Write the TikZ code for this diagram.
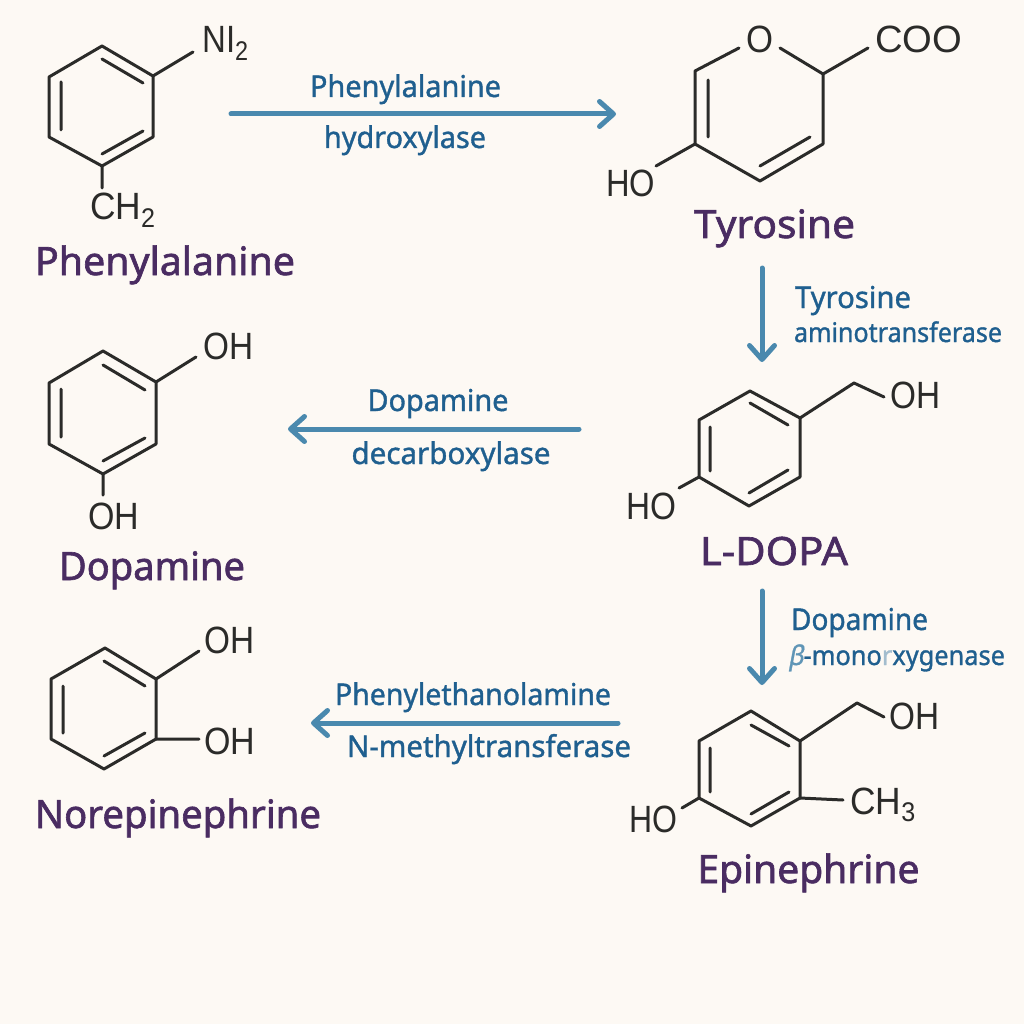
\documentclass[tikz,border=0pt]{standalone}
\usepackage{fontspec}
\usepackage{graphicx}
\setmainfont{Noto Sans}
\newfontfamily\atomfont{Liberation Sans}
\newfontfamily\molfont[FakeBold=1.6]{Noto Sans}
\newfontfamily\enzfont[FakeBold=1.2]{Noto Sans}
\newfontfamily\slantfont[FakeSlant=0.2,FakeBold=1.2]{Noto Sans}
\usetikzlibrary{arrows.meta}
\definecolor{paper}{HTML}{FDF9F4}
\definecolor{ink}{HTML}{2B2B29}
\definecolor{plum}{HTML}{4A2C62}
\definecolor{enzblue}{HTML}{1F5F8F}
\definecolor{arrowblue}{HTML}{4A89AE}
\definecolor{fadeblue}{HTML}{5F95B6}
\definecolor{fadeblueb}{HTML}{A3BDCE}
\newcommand{\fitw}[2]{\resizebox{#1pt}{\height}{#2}}
\newcommand{\subs}[1]{\raisebox{-0.2em}{\fontsize{27}{27}\selectfont #1}}
\newcommand{\molring}[7]{%
  \coordinate (#1a) at #2; \coordinate (#1b) at #3; \coordinate (#1c) at #4;
  \coordinate (#1d) at #5; \coordinate (#1e) at #6; \coordinate (#1f) at #7;
  \draw[bond] (#1a)--(#1b)--(#1c)--(#1d)--(#1e)--(#1f)--cycle;}
\tikzset{
  bond/.style={draw=ink,line width=3pt,line cap=round,line join=round},
  atom/.style={anchor=base west,inner sep=0pt,text=ink,font=\atomfont\fontsize{38}{38}\selectfont},
  mol/.style={anchor=base,inner sep=0pt,text=plum,font=\molfont\fontsize{39}{39}\selectfont},
  enz/.style={anchor=base,inner sep=0pt,text=enzblue,font=\enzfont\fontsize{30}{30}\selectfont},
  enzsmall/.style={enz,font=\enzfont\fontsize{27}{27}\selectfont},
  reaction/.style={draw=arrowblue,line width=5pt,line cap=round,
    -{Straight Barb[length=14pt,width=25pt,line width=5pt,round]}}
}
\begin{document}
\begin{tikzpicture}[x=1pt,y=-1pt]
\fill[paper] (0,0) rectangle (1024,1024);
\useasboundingbox (0,0) rectangle (1024,1024);

% Phenylalanine
\molring{p}{(102,46)}{(153,76)}{(153,137)}{(102,166)}{(49,137)}{(49,77)}
\draw[bond] (102,59)--(143,83) (143,131)--(102,154) (61,82)--(61,130);
\node[atom] (pN) at (202,53) {\fitw{46}{NI\subs{2}}};
\node[atom] (pC) at (90,220) {\fitw{65}{CH\subs{2}}};
\coordinate (pNe) at (193,52); \coordinate (pCe) at (102,188);
\draw[bond] (pb)--(pNe) (pd)--(pCe);
\node[mol] (pL) at (165,275) {\fitw{260}{Phenylalanine}};

% Tyrosine
\node[atom,anchor=base] (tO) at (760,53) {\fitw{27}{O}};
\coordinate (tOl) at (739,48); \coordinate (tOr) at (780,48);
\coordinate (ta) at (823,74); \coordinate (tb) at (823,144); \coordinate (tc) at (760,181);
\coordinate (td) at (695,144); \coordinate (te) at (695,71);
\draw[bond] (tOr)--(ta)--(tb)--(tc)--(td)--(te)--(tOl);
\draw[bond] (708,80)--(708,137) (810,137)--(760,166);
\node[atom] (tH) at (606,197) {\fitw{49}{HO}};
\node[atom] (tC) at (875,53) {\fitw{87}{COO}};
\coordinate (tHe) at (656,166); \coordinate (tCe) at (868,48);
\draw[bond] (td)--(tHe) (ta)--(tCe);
\node[mol] (tL) at (774.5,238) {\fitw{161}{Tyrosine}};

% L-DOPA
\molring{l}{(750,391)}{(800,418)}{(800,477)}{(749,506)}{(699,477)}{(699,420)}
\draw[bond] (750,403)--(788,425) (788,470)--(749,493) (710,427)--(710,471);
\node[atom] (lO) at (890,408) {\fitw{50}{OH}};
\node[atom] (lH) at (626,519) {\fitw{50}{HO}};
\coordinate (lk) at (854,383); \coordinate (lOe) at (884,397); \coordinate (lHe) at (679,488);
\draw[bond] (lb)--(lk)--(lOe) (le)--(lHe);
\node[mol] (lL) at (774,565) {\fitw{148}{L-DOPA}};

% Epinephrine
\molring{e}{(751,711)}{(800,741)}{(800,798)}{(751,826)}{(699,798)}{(699,741)}
\draw[bond] (751,725)--(789,746) (789,792)--(751,814) (710,748)--(710,792);
\node[atom] (eO) at (889,729) {\fitw{50}{OH}};
\node[atom] (eC) at (850,814) {\fitw{65}{CH\subs{3}}};
\node[atom] (eH) at (629,832) {\fitw{48}{HO}};
\coordinate (ek) at (857,703); \coordinate (eOe) at (884,717);
\coordinate (eCe) at (843,800); \coordinate (eHe) at (682,808);
\draw[bond] (eb)--(ek)--(eOe) (ec)--(eCe) (ee)--(eHe);
\node[mol] (eL) at (808.5,883) {\fitw{222}{Epinephrine}};

% Dopamine
\molring{d}{(103,351)}{(156,382)}{(156,444)}{(103,474)}{(49,444)}{(49,383)}
\draw[bond] (103,365)--(145,390) (145,438)--(103,461) (61,389)--(61,437);
\node[atom] (dO) at (203,359) {\fitw{50}{OH}};
\node[atom] (dP) at (88,529) {\fitw{51}{OH}};
\coordinate (dOe) at (196,357); \coordinate (dPe) at (103,495);
\draw[bond] (db)--(dOe) (dd)--(dPe);
\node[mol] (dL) at (152,580) {\fitw{186}{Dopamine}};

% Norepinephrine
\molring{n}{(105,648)}{(156,679)}{(156,739)}{(104,769)}{(51,739)}{(51,679)}
\draw[bond] (104,661)--(145,686) (145,733)--(104,756) (63,686)--(63,733);
\node[atom] (nO) at (204,653) {\fitw{50}{OH}};
\node[atom] (nP) at (204,754) {\fitw{51}{OH}};
\coordinate (nOe) at (199,651); \coordinate (nPe) at (199,739);
\draw[bond] (nb)--(nOe) (nc)--(nPe);
\node[mol] (nL) at (178,828) {\fitw{286}{Norepinephrine}};

% Reaction arrows
\coordinate (r1s) at (231,114); \coordinate (r1e) at (616,114);
\coordinate (r2s) at (762,268); \coordinate (r2e) at (762,362);
\coordinate (r3s) at (579,429); \coordinate (r3e) at (288,429);
\coordinate (r4s) at (762,591); \coordinate (r4e) at (762,685);
\coordinate (r5s) at (618,723); \coordinate (r5e) at (311,723);
\draw[reaction] (r1s)--(r1e);
\draw[reaction] (r2s)--(r2e);
\draw[reaction] (r3s)--(r3e);
\draw[reaction] (r4s)--(r4e);
\draw[reaction] (r5s)--(r5e);

% Enzymes
\node[enz] (z1a) at (405.5,97) {\fitw{191}{Phenylalanine}};
\node[enz] (z1b) at (405,148) {\fitw{162}{hydroxylase}};
\node[enz] (z2a) at (853,308) {\fitw{116}{Tyrosine}};
\node[enzsmall] (z2b) at (898,342) {\fitw{208}{aminotransferase}};
\node[enz] (z3a) at (438,411) {\fitw{141}{Dopamine}};
\node[enz] (z3b) at (451,464) {\fitw{199}{decarboxylase}};
\node[enz] (z4a) at (859.5,630) {\fitw{137}{Dopamine}};
\node[enzsmall] (z4b) at (896.5,665) {\fitw{217}{{\slantfont\color{fadeblue}β}-mono{\color{fadeblueb}r}xygenase}};
\node[enz] (z5a) at (473,705) {\fitw{276}{Phenylethanolamine}};
\node[enz] (z5b) at (489,757) {\fitw{284}{N-methyltransferase}};
\end{tikzpicture}
\end{document}
